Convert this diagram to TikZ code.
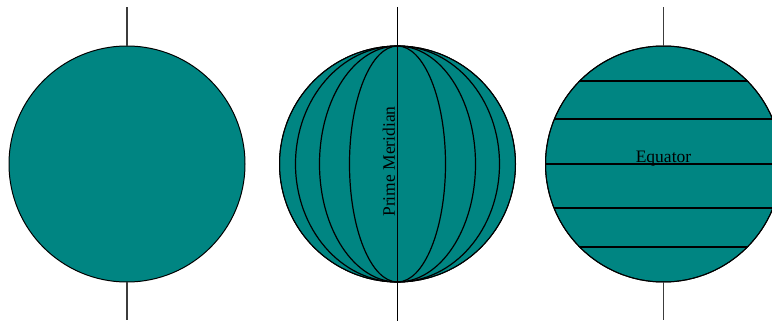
\documentclass[tikz,border=0pt]{standalone}
\usepackage{fontspec}
\setmainfont{Liberation Serif}
\usetikzlibrary{calc}
\definecolor{globeteal}{RGB}{0,133,130}
\definecolor{axisgray}{RGB}{60,60,60}
\begin{document}
\begin{tikzpicture}[x=1pt,y=1pt,
  globe/.style={circle,fill=globeteal,draw=black,line width=1pt,minimum size=236pt,inner sep=0pt,outer sep=0pt},
  axisline/.style={draw=axisgray,line width=1.2pt},
  gridline/.style={draw=black,line width=1.2pt},
  lbl/.style={font=\fontsize{17.5}{20}\selectfont,inner sep=0pt}]
\useasboundingbox (0,0) rectangle (772,322);
% left globe
\node[globe] (g1) at (127,158) {};
\coordinate (t1) at (127,315);
\coordinate (b1) at (127,2);
\draw[axisline] (g1.north) -- (t1);
\draw[axisline] (g1.south) -- (b1);
% middle globe
\node[globe] (g2) at (397.5,158) {};
\foreach \r in {48,78,102}
  \draw[gridline] (g2.center) ellipse [x radius=\r, y radius=118];
\draw[black,line width=1pt] (g2.center) circle [radius=118];
\coordinate (t2) at (397.5,315);
\coordinate (b2) at (397.5,1);
\draw[axisline,draw=black] (t2) -- (b2);
\node[lbl,rotate=90] (pm) at (389,160.5) {Prime Meridian};
% right globe
\node[globe] (g3) at (663.5,158) {};
\begin{scope}
  \clip (g3.center) circle [radius=118];
  \foreach \d in {83,45,0,-44,-83}
    \draw[gridline] ($(g3.center)+(-130,\d)$) -- ($(g3.center)+(130,\d)$);
\end{scope}
\draw[black,line width=1pt] (g3.center) circle [radius=118];
\coordinate (t3) at (663.5,315);
\coordinate (b3) at (663.5,2);
\draw[axisline] (g3.north) -- (t3);
\draw[axisline] (g3.south) -- (b3);
\node[lbl,anchor=base] (eq) at (663.5,160) {Equator};
\end{tikzpicture}
\end{document}
